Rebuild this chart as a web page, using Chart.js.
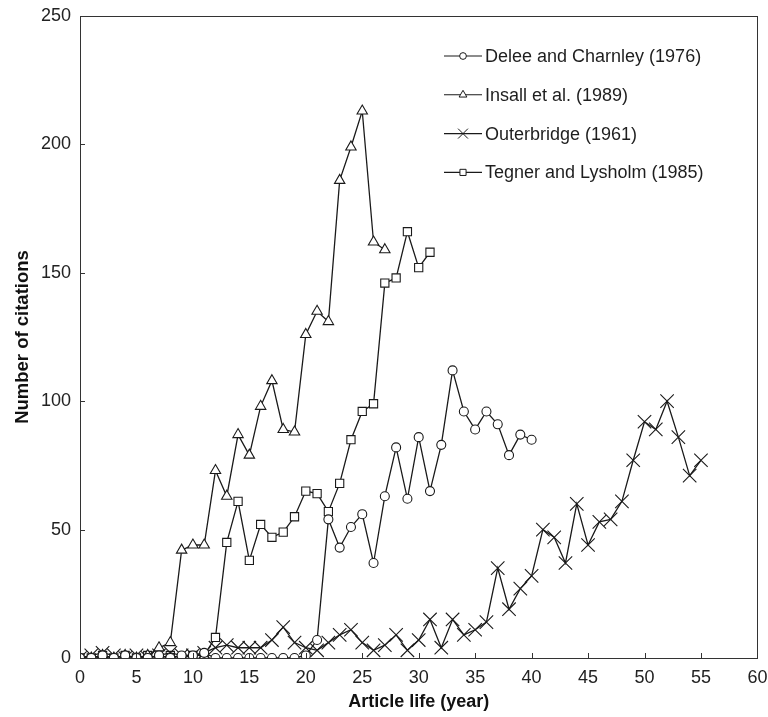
<!DOCTYPE html>
<html>
<head>
<meta charset="utf-8">
<script src="https://cdn.jsdelivr.net/npm/chart.js@4.4.1/dist/chart.umd.min.js"></script>
<style>
html,body{margin:0;padding:0;background:#fff;}
#wrap{width:768px;height:717px;position:relative;}
</style>
</head>
<body>
<div id="wrap"><canvas id="c" width="768" height="717"></canvas></div>
<script>
// ---- data (article life in years starts at 0 for every series) ----
const seriesNames = ["Delee and Charnley (1976)", "Insall et al. (1989)", "Outerbridge (1961)", "Tegner and Lysholm (1985)"];
const deleeValues = [0,0,1,0,1,0,0,1,0,1,1,2,0,0,0,0,0,0,0,0,1,7,54,43,51,56,37,63,82,62,86,65,83,112,96,89,96,91,79,87,85];
const insallValues = [0,0,1,0,1,0,1,4,6,42,44,44,73,63,87,79,98,108,89,88,126,135,131,186,199,213,162,159];
const outerbridgeValues = [0,1,2,1,0,1,0,1,2,1,1,2,4,5,4,4,4,7,12,6,4,3,6,9,11,6,3,5,9,3,7,15,4,15,9,11,14,35,19,27,32,50,47,37,60,44,53,54,61,77,92,89,100,86,71,77];
const tegnerValues = [0,0,1,0,1,0,1,0,1,0,1,1,8,45,61,38,52,47,49,55,65,64,57,68,85,96,99,146,148,166,152,158];
const xTickValues = [0,5,10,15,20,25,30,35,40,45,50,55,60];
const yTickValues = [0,50,100,150,200,250];
const xTitle = "Article life (year)";
const yTitle = "Number of citations";

const toPoints = arr => arr.map((v, i) => ({x: i, y: v}));
const styles = [
  {pointStyle: 'circle', r: 4.5},
  {pointStyle: 'triangle', r: 6},
  {pointStyle: 'crossRot', r: 9.5},
  {pointStyle: 'rect', r: 5.8}
];
const allValues = [deleeValues, insallValues, outerbridgeValues, tegnerValues];
const ink = '#1a1a1a';
const FONT = '"Liberation Sans", Arial, Helvetica, sans-serif';

const datasets = allValues.map((vals, i) => ({
  label: seriesNames[i],
  data: toPoints(vals),
  borderColor: ink,
  borderWidth: 1.3,
  pointStyle: styles[i].pointStyle,
  pointRadius: styles[i].r,
  pointHoverRadius: styles[i].r,
  pointBorderColor: ink,
  pointBackgroundColor: '#fff',
  pointBorderWidth: 1.1,
  fill: false,
  tension: 0
}));

function drawMarker(ctx, style, r, x, y) {
  if (window.Chart && Chart.helpers && Chart.helpers.drawPoint) {
    ctx.fillStyle = '#fff';
    ctx.strokeStyle = ink;
    ctx.lineWidth = 1;
    Chart.helpers.drawPoint(ctx, {pointStyle: style, radius: r, rotation: 0, borderWidth: 1}, x, y);
  }
}

const framePlugin = {
  id: 'frameTicks',
  afterDraw(chart) {
    const {ctx, chartArea: a, scales} = chart;
    ctx.save();
    ctx.strokeStyle = '#333';
    ctx.lineWidth = 1;
    ctx.strokeRect(Math.round(a.left) + 0.5, Math.round(a.top) + 0.5, Math.round(a.right - a.left), Math.round(a.bottom - a.top));
    ctx.beginPath();
    xTickValues.forEach(v => {
      const px = Math.round(scales.x.getPixelForValue(v)) + 0.5;
      ctx.moveTo(px, a.bottom);
      ctx.lineTo(px, a.bottom - 5);
    });
    yTickValues.forEach(v => {
      const py = Math.round(scales.y.getPixelForValue(v)) + 0.5;
      ctx.moveTo(a.left, py);
      ctx.lineTo(a.left + 5, py);
    });
    ctx.stroke();
    ctx.restore();
  }
};

const legendPlugin = {
  id: 'innerLegend',
  afterDatasetsDraw(chart) {
    const {ctx} = chart;
    const x0 = 444, x1 = 482, textX = 485, y0 = 56, dy = 38.8;
    ctx.save();
    chart.data.datasets.forEach((ds, i) => {
      const y = y0 + i * dy;
      ctx.strokeStyle = ink;
      ctx.lineWidth = 1.1;
      ctx.beginPath();
      ctx.moveTo(x0, y);
      ctx.lineTo(x1, y);
      ctx.stroke();
      const r = styles[i].pointStyle === 'crossRot' ? 7 : styles[i].r * 0.75;
      drawMarker(ctx, styles[i].pointStyle, r, (x0 + x1) / 2, y);
      ctx.fillStyle = '#1e1e1e';
      ctx.font = '18px ' + FONT;
      ctx.textBaseline = 'middle';
      ctx.textAlign = 'left';
      ctx.fillText(ds.label, textX, y + 1);
    });
    ctx.restore();
  }
};

new Chart(document.getElementById('c'), {
  type: 'line',
  data: {datasets},
  plugins: [framePlugin, legendPlugin],
  options: {
    responsive: false,
    animation: false,
    devicePixelRatio: 1,
    layout: {padding: {top: 16, right: 10, left: 0, bottom: 0}},
    plugins: {legend: {display: false}, tooltip: {enabled: false}},
    scales: {
      x: {
        type: 'linear', min: 0, max: 60,
        afterBuildTicks: s => { s.ticks = xTickValues.map(v => ({value: v})); },
        afterFit: s => { s.height = 59; s.paddingRight = 0; s.paddingLeft = 0; },
        ticks: {color: '#222', font: {family: FONT, size: 18}, padding: 9, maxRotation: 0},
        grid: {drawOnChartArea: false, drawTicks: false},
        border: {display: false},
        title: {display: true, text: xTitle, color: '#111', font: {family: FONT, size: 18, weight: 'bold'}, padding: {top: 0, bottom: 4}}
      },
      y: {
        type: 'linear', min: 0, max: 250,
        afterBuildTicks: s => { s.ticks = yTickValues.map(v => ({value: v})); },
        afterFit: s => { s.width = 80; s.paddingTop = 0; s.paddingBottom = 0; },
        ticks: {color: '#222', font: {family: FONT, size: 18}, padding: 9},
        grid: {drawOnChartArea: false, drawTicks: false},
        border: {display: false},
        title: {display: true, text: yTitle, color: '#111', font: {family: FONT, size: 18.5, weight: 'bold'}, padding: {top: 12, bottom: 0}}
      }
    }
  }
});
</script>
</body>
</html>
